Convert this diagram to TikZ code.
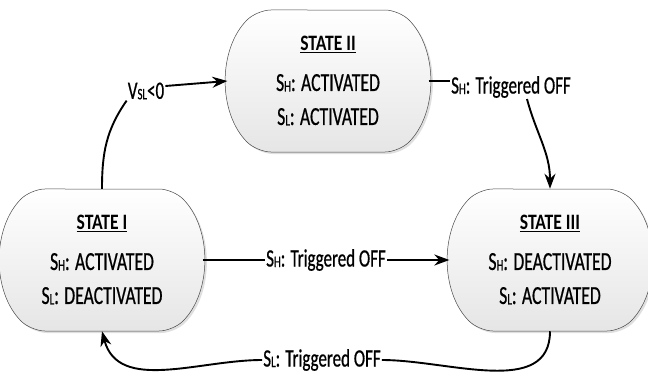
\documentclass[tikz,border=0pt]{standalone}
\usepackage{fontspec}
\setmainfont{Carlito}[FakeStretch=0.68,FakeBold=0.6]
\newfontfamily\titlefont{Carlito}[FakeStretch=0.8]
\usetikzlibrary{shapes.misc,shadows,arrows.meta}
\newcommand\subtx[1]{\raisebox{-0.5pt}{\fontsize{16}{16}\selectfont #1}}
\newcommand\ttl[1]{{\titlefont\bfseries\fontsize{22}{22}\selectfont\underline{#1}}}
\begin{document}
\begin{tikzpicture}[x=1pt,y=-1pt,
  state/.style={rounded rectangle, rounded rectangle arc length=90,
    minimum width=194pt, minimum height=142pt, inner sep=0pt,
    rounded corners=14pt,
    draw=gray!55!black, line width=0.5pt,
    top color=white, bottom color=gray!20,
    drop shadow={opacity=0.25,shadow xshift=2pt,shadow yshift=-2pt},
    align=center, font=\fontsize{26}{34}\selectfont},
  lbl/.style={font=\fontsize{25}{26}\selectfont, inner sep=1pt},
  conn/.style={line width=1.9pt, black},
  arr/.style={conn, -{Stealth[length=15pt,width=11pt]}}]
\useasboundingbox (0,0) rectangle (648,378);

\node[state] (s2) at (328,81) {\ttl{STATE II}\\[6pt] S\subtx{H}: ACTIVATED\\ S\subtx{L}: ACTIVATED};
\node[state] (s1) at (102,260) {\ttl{STATE I}\\[6pt] S\subtx{H}: ACTIVATED\\ S\subtx{L}: DEACTIVATED};
\node[state] (s3) at (550,260) {\ttl{STATE III}\\[6pt] S\subtx{H}: DEACTIVATED\\ S\subtx{L}: ACTIVATED};

% State I -> State II
\node[lbl] (vl) at (146,91) {V\subtx{SL}<0};
\draw[conn] (s1.north) to[out=90,in=-125] (vl.south west);
\draw[arr] ([yshift=5pt]vl.east) -- (s2.west);

% State II -> State III
\node[lbl] (l2) at (511,87) {S\subtx{H}: Triggered OFF};
\draw[conn] (s2.east) -- (s2.east -| l2.west);
\draw[arr] ([xshift=16pt]l2.south) to[out=-75,in=90] (s3.north);

% State I -> State III
\draw[arr] (s1.east) -- node[lbl, fill=white] (l3) {S\subtx{H}: Triggered OFF} (s3.west);

% State III -> State I
\node[lbl] (l4) at (322,360) {S\subtx{L}: Triggered OFF};
\draw[conn] (s3.south) to[out=-90,in=0] (l4.east);
\draw[arr] (l4.west) to[out=180,in=-75] (s1.south);
\end{tikzpicture}
\end{document}
